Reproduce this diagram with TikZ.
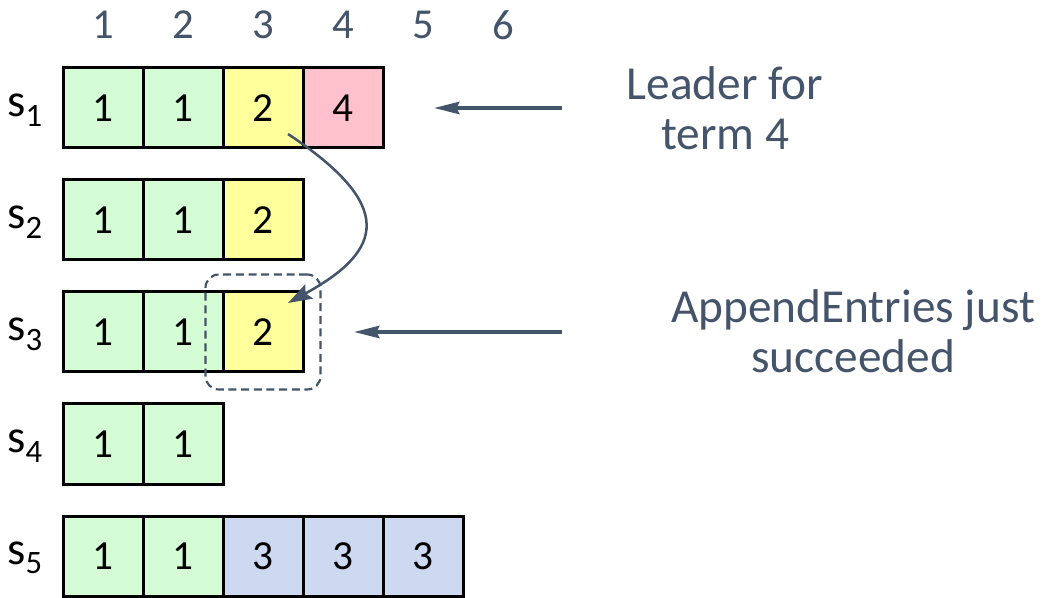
\documentclass[tikz,border=0pt]{standalone}
\usepackage{fontspec}
\setmainfont{Carlito}
\usetikzlibrary{arrows.meta,fit,calc}
\definecolor{slate}{HTML}{44546A}
\definecolor{term1}{HTML}{D5FDD5}
\definecolor{term2}{HTML}{FFFF9B}
\definecolor{term3}{HTML}{CDD9F1}
\definecolor{term4}{HTML}{FFC1CB}
\begin{document}
\begin{tikzpicture}[x=0.75pt,y=-0.75pt,
  cell/.style={draw=black,line width=2.25pt,minimum width=60pt,minimum height=60pt,
    inner sep=0pt,font=\fontsize{31}{32}\selectfont},
  idx/.style={text=slate,font=\fontsize{32}{34}\selectfont},
  srv/.style={text=black,font=\fontsize{35}{36}\selectfont},
  note/.style={text=slate,align=center,font=\fontsize{35.5}{37.5}\selectfont},
  pointer/.style={draw=slate,line width=3pt,-{Stealth[length=19pt,width=9pt,inset=2pt]}},
  copyarrow/.style={draw=slate,line width=1.9pt,-{Stealth[length=18pt,width=12pt,inset=3pt]}},
  highlight/.style={draw=slate,line width=1.6pt,dash pattern=on 6pt off 3.5pt,rounded corners=10pt}]
\useasboundingbox (0,0) rectangle (1046,598);

% log indices
\foreach \i in {1,...,6}
  \node[idx] (h\i) at ({103+80*(\i-1)},25) {\i};

% server logs: one row per server, one cell per entry (filled by term)
\foreach \r/\entries in {1/{1,1,2,4},2/{1,1,2},3/{1,1,2},4/{1,1},5/{1,1,3,3,3}} {
  \node[srv] (s\r) at (25,{110+112*(\r-1)}) {s\textsubscript{\r}};
  \foreach \t [count=\c] in \entries
    \node[cell,fill=term\t] (c\r-\c) at ({103+80*(\c-1)},{108+112*(\r-1)}) {\t};
}

% annotations
\node[note] (lead) at (725,108) {Leader for\\term 4};
\node[note] (ae) at (853,331) {AppendEntries just\\succeeded};
\coordinate (p1) at (562,108);
\coordinate (p3) at (562,332);
\draw[pointer,shorten >=37pt] (p1) -- (c1-4.east);
\draw[pointer,shorten >=37pt] (p3) -- (c3-3.east);

% replicated entry
\node[highlight,fit=(c3-3),inner sep=12pt] (hl) {};
\draw[copyarrow] ([shift={(25,26)}]c1-3.center)
  .. controls (395,205) and (385,250) .. ([shift={(25,-29)}]c3-3.center);
\end{tikzpicture}
\end{document}
